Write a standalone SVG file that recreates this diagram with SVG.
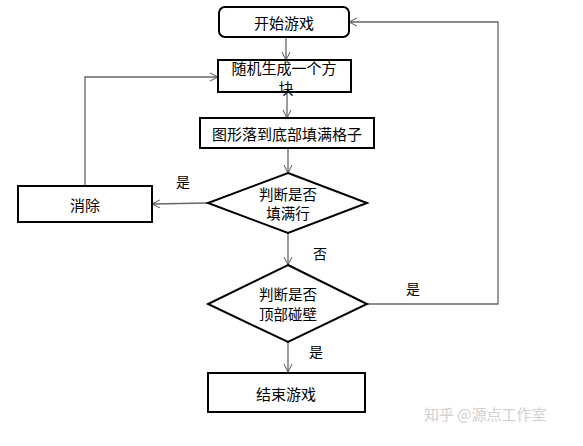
<svg xmlns="http://www.w3.org/2000/svg" width="583" height="446" viewBox="0 0 583 446">
<defs>
<marker id="arr" markerWidth="10" markerHeight="10" refX="9" refY="5" orient="auto" markerUnits="userSpaceOnUse">
<path d="M1,1 L9,5 L1,9" fill="none" stroke="#555" stroke-width="1"/>
</marker>
</defs>
<style>
.box{fill:#fff;stroke:#000;stroke-width:2}
.t{font-family:"Noto Sans CJK SC","Noto Sans",sans-serif;font-size:15px;fill:#000;text-anchor:middle;dominant-baseline:central}
.d{font-size:14.5px}
.l{font-size:14px}
.c{fill:none;stroke:#666;stroke-width:1.3}
.wm{font-family:"Noto Sans CJK SC",sans-serif;font-size:15px;fill:#d0d0d0}
</style>
<rect width="583" height="446" fill="#fff"/>
<g id="connectors">
<line class="c" x1="286" y1="37" x2="286" y2="60" marker-end="url(#arr)"/>
<line class="c" x1="287" y1="92" x2="287" y2="118" marker-end="url(#arr)"/>
<line class="c" x1="288" y1="149" x2="288" y2="173" marker-end="url(#arr)"/>
<line class="c" x1="208" y1="203" x2="152" y2="204" marker-end="url(#arr)"/>
<polyline class="c" points="85,186 85,77 218,77" marker-end="url(#arr)"/>
<line class="c" x1="288" y1="233" x2="288" y2="265" marker-end="url(#arr)"/>
<polyline class="c" points="367,304 498,304 498,22 349,22" marker-end="url(#arr)"/>
<line class="c" x1="288" y1="342" x2="288" y2="372" marker-end="url(#arr)"/>
<text class="t l" x="183" y="181">是</text>
<text class="t l" x="320" y="253">否</text>
<text class="t l" x="413" y="288">是</text>
<text class="t l" x="316" y="351">是</text>
</g>
<g id="start">
<rect class="box" x="219" y="7" width="130" height="30" rx="6"/>
<text class="t" x="284" y="22">开始游戏</text>
</g>
<g id="random">
<rect class="box" x="218" y="60" width="133" height="32"/>
<text class="t" x="284" y="67">随机生成一个方</text>
<text class="t" x="286" y="87">块</text>
</g>
<g id="fall">
<rect class="box" x="200" y="118" width="174" height="30"/>
<text class="t" x="287" y="133">图形落到底部填满格子</text>
</g>
<g id="check1">
<polygon class="box" points="288,173 367,203 288,233 208,203"/>
<text class="t d" x="288" y="193">判断是否</text>
<text class="t d" x="288" y="212">填满行</text>
</g>
<g id="clear">
<rect class="box" x="18" y="186" width="134" height="36"/>
<text class="t" x="85" y="204">消除</text>
</g>
<g id="check2">
<polygon class="box" points="288,265 367,304 288,342 208,304"/>
<text class="t d" x="288" y="293">判断是否</text>
<text class="t d" x="288" y="313">顶部碰壁</text>
</g>
<g id="end">
<rect class="box" x="208" y="373" width="157" height="39"/>
<text class="t" x="286" y="393">结束游戏</text>
</g>
<text class="wm" x="424" y="420">知乎 @源点工作室</text>
</svg>
